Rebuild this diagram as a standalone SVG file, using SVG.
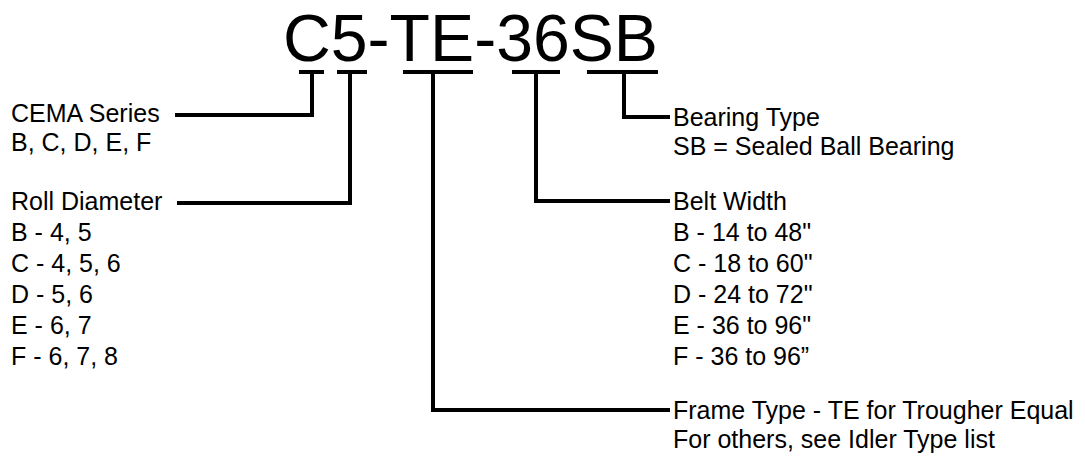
<svg xmlns="http://www.w3.org/2000/svg" width="1085" height="458" viewBox="0 0 1085 458">
<style>
text{font-family:"Liberation Sans",Arial,sans-serif;fill:#000}
.t{font-size:25px}
.title{font-size:66px}
.c{fill:none;stroke:#000;stroke-width:4;stroke-linecap:butt;stroke-linejoin:miter}
</style>
<rect width="1085" height="458" fill="#fff"/>
<g id="title"><text class="title" x="283" y="61" textLength="375" lengthAdjust="spacingAndGlyphs">C5-TE-36SB</text></g>
<g id="connectors">
<path class="c" d="M299 72H324M312 72V115H175"/>
<path class="c" d="M337 72H367M350 72V203H177"/>
<path class="c" d="M403 72H473M433 72V410H670"/>
<path class="c" d="M512 72H560M536 72V201H670"/>
<path class="c" d="M587 72H658M624 72V117H670"/>
</g>
<g id="cema"><text class="t" x="11" y="122">CEMA Series</text><text class="t" x="11" y="151">B, C, D, E, F</text></g>
<g id="roll"><text class="t" x="11" y="210">Roll Diameter</text><text class="t" x="11" y="241">B - 4, 5</text><text class="t" x="11" y="272">C - 4, 5, 6</text><text class="t" x="11" y="303">D - 5, 6</text><text class="t" x="11" y="334">E - 6, 7</text><text class="t" x="11" y="365">F - 6, 7, 8</text></g>
<g id="bearing"><text class="t" x="673" y="126">Bearing Type</text><text class="t" x="673" y="155">SB = Sealed Ball Bearing</text></g>
<g id="belt"><text class="t" x="673" y="210">Belt Width</text><text class="t" x="673" y="241">B - 14 to 48"</text><text class="t" x="673" y="272">C - 18 to 60"</text><text class="t" x="673" y="303">D - 24 to 72"</text><text class="t" x="673" y="334">E - 36 to 96"</text><text class="t" x="673" y="365">F - 36 to 96”</text></g>
<g id="frame"><text class="t" x="673" y="419">Frame Type - TE for Trougher Equal</text><text class="t" x="673" y="448">For others, see Idler Type list</text></g>
</svg>
